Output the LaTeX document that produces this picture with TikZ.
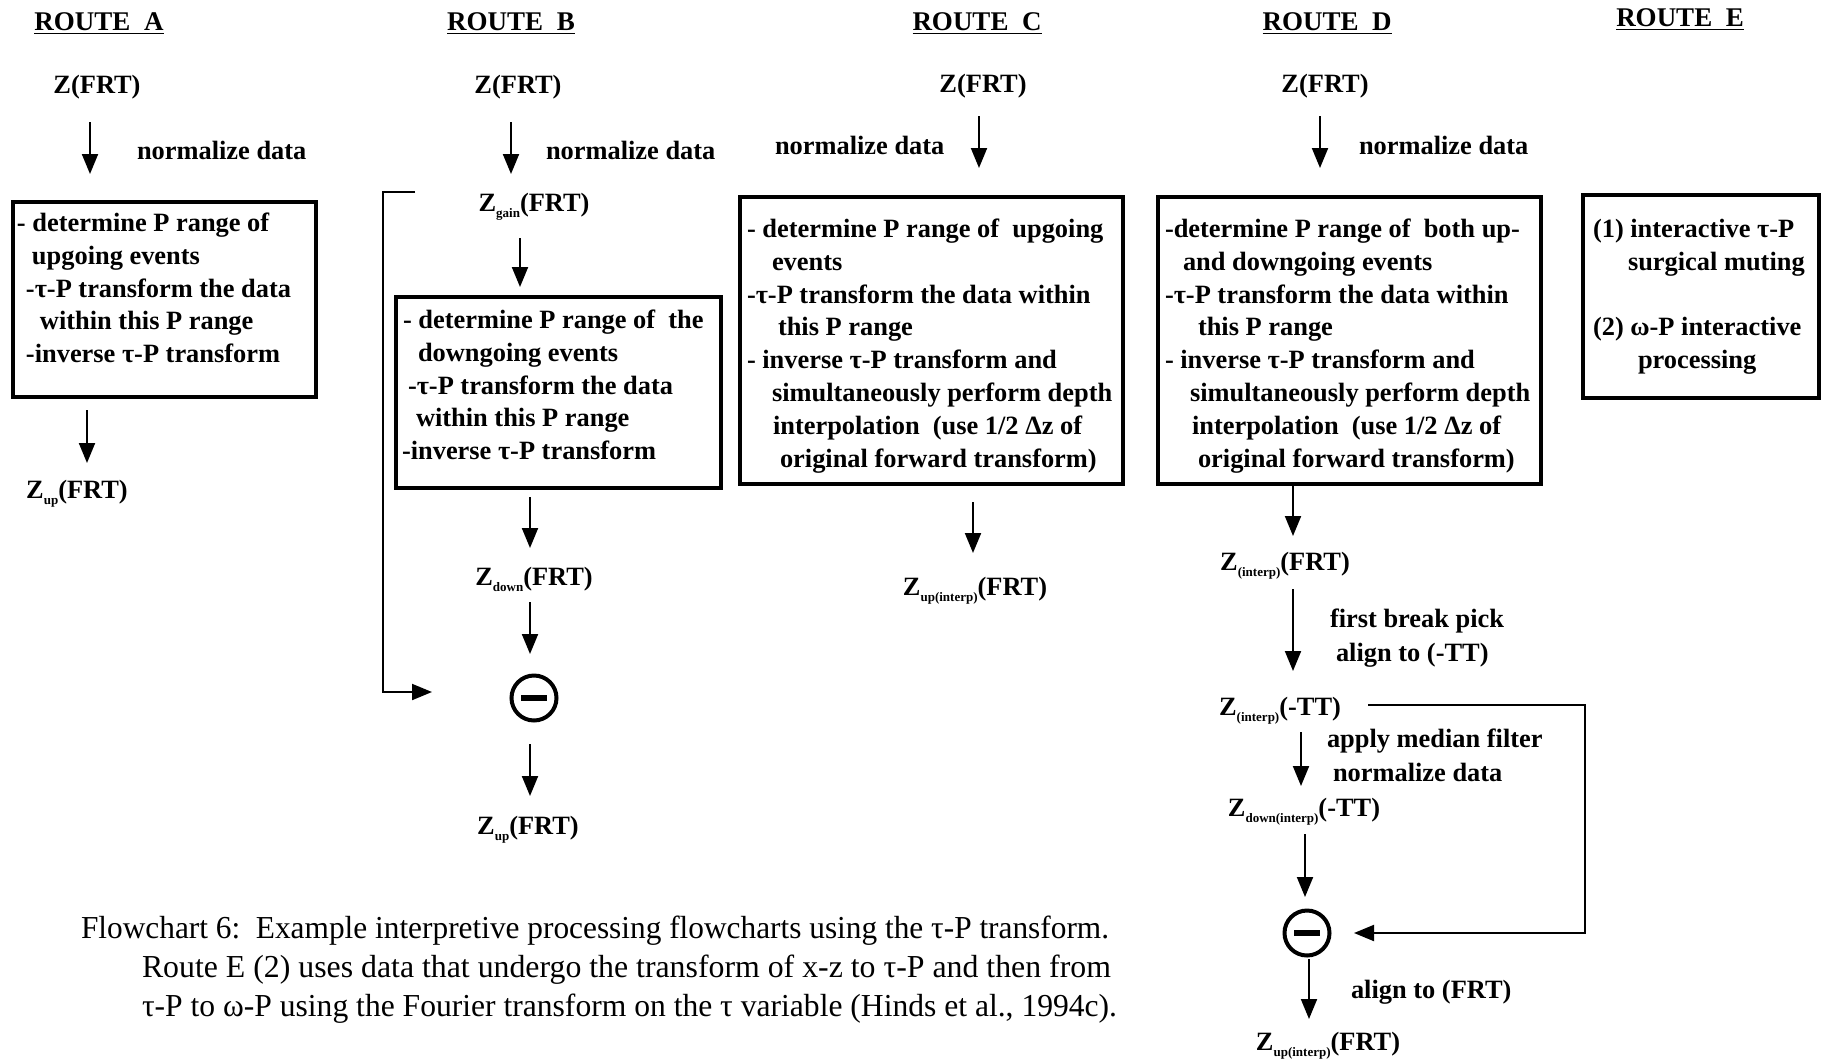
\documentclass[tikz,border=0pt]{standalone}
\usepackage{graphicx}
\usepackage{fontspec}
\setmainfont{Liberation Serif}
\usetikzlibrary{arrows.meta}
% small lowered subscript used in the Z labels
\newcommand{\sbx}[1]{\raisebox{-0.55ex}{\fontsize{6.5}{6.5}\selectfont #1}}
\begin{document}
\begin{tikzpicture}[x=0.5pt,y=-0.5pt,
  every node/.style={inner sep=0pt,outer sep=0pt},
  bold/.style={font=\fontsize{13.2}{16.4}\selectfont\bfseries},
  lbl/.style={bold,anchor=base},
  note/.style={bold,anchor=base west},
  hdr/.style={font=\fontsize{13.5}{16.4}\selectfont\bfseries,anchor=base},
  boxtext/.style={bold,anchor=north west,align=left},
  frame/.style 2 args={draw,line width=2pt,minimum width=#1*0.5pt,minimum height=#2*0.5pt},
  arr/.style={line width=1pt,-{Triangle[width=8pt,length=10pt]}},
  minus/.style={circle,draw,line width=2pt,minimum size=22.5pt},
  bar/.style={line width=2.8pt},
  capt/.style={font=\fontsize{16}{19}\selectfont,anchor=base west}
]
\useasboundingbox (0,0) rectangle (1821,1061);

% ---------- headers ----------
\node[hdr] (hA) at (99,30)   {\underline{ROUTE~~A}};
\node[hdr] (hB) at (511,30)  {\underline{ROUTE~~B}};
\node[hdr] (hC) at (977,30)  {\underline{ROUTE~~C}};
\node[hdr] (hD) at (1327,30) {\underline{ROUTE~~D}};
\node[hdr] (hE) at (1680,26) {\underline{ROUTE~~E}};

% ---------- route A ----------
\node[lbl] (zA) at (97,93) {Z(FRT)};
\node[note] (nA) at (137,159) {normalize data};
\node[frame={303}{195}] (boxA) at (164.5,299.5) {};
\node[boxtext] (tA) at (17,213) {%
- determine P range of\\
\hspace*{7.5pt}upgoing events\\
\hspace*{4.5pt}-τ-P transform the data\\
\hspace*{11.5pt}within this P range\\
\hspace*{4.5pt}-inverse τ-P transform};
\node[lbl] (zupA) at (77,498) {Z\sbx{up}(FRT)};
\coordinate (a1s) at (90,122);  \coordinate (a1e) at (90,174);
\coordinate (a2s) at (87,410);  \coordinate (a2e) at (87,463);
\draw[arr] (a1s) -- (a1e);
\draw[arr] (a2s) -- (a2e);

% ---------- route B ----------
\node[lbl] (zB) at (518,93) {Z(FRT)};
\node[note] (nB) at (546,159) {normalize data};
\node[lbl] (zgain) at (534,211) {Z\sbx{gain}(FRT)};
\node[frame={325}{191}] (boxB) at (558.5,392.5) {};
\node[boxtext] (tB) at (402,310) {%
\hspace*{0.5pt}- determine P range of~ the\\
\hspace*{8pt}downgoing events\\
\hspace*{3pt}-τ-P transform the data\\
\hspace*{7pt}within this P range\\
-inverse τ-P transform};
\node[lbl] (zdown) at (534,585) {Z\sbx{down}(FRT)};
\node[minus] (mB) at (534,698) {};
\draw[bar] ([xshift=-6.4pt]mB.center) -- ([xshift=6.4pt]mB.center);
\node[lbl] (zupB) at (528,834) {Z\sbx{up}(FRT)};
\coordinate (b1s) at (511,122); \coordinate (b1e) at (511,174);
\coordinate (b2s) at (520,238); \coordinate (b2e) at (520,287);
\coordinate (b3s) at (530,497); \coordinate (b3e) at (530,548);
\coordinate (b4s) at (530,602); \coordinate (b4e) at (530,654);
\coordinate (b5s) at (530,744); \coordinate (b5e) at (530,796);
\draw[arr] (b1s) -- (b1e);
\draw[arr] (b2s) -- (b2e);
\draw[arr] (b3s) -- (b3e);
\draw[arr] (b4s) -- (b4e);
\draw[arr] (b5s) -- (b5e);
% gain-corrected data fed forward to the subtraction
\coordinate (fbBs) at (415,192);
\coordinate (fbBc) at (383,692);
\coordinate (fbBe) at (432,692);
\draw[arr] (fbBs) -| (fbBc) -- (fbBe);

% ---------- route C ----------
\node[lbl] (zC) at (983,92) {Z(FRT)};
\node[note] (nC) at (775,154) {normalize data};
\node[frame={383}{287}] (boxC) at (931.5,340.5) {};
\node[boxtext] (tC) at (747,219) {%
- determine P range of~ upgoing\\
\hspace*{12.5pt}events\\
-τ-P transform the data within\\
\hspace*{15.5pt}this P range\\
- inverse τ-P transform and\\
\hspace*{12.5pt}simultaneously perform depth\\
\hspace*{13pt}interpolation~ (use 1/2 Δz of\\
\hspace*{16.5pt}original forward transform)};
\node[lbl] (zupC) at (975,595) {Z\sbx{up(interp)}(FRT)};
\coordinate (c1s) at (979,116); \coordinate (c1e) at (979,168);
\coordinate (c2s) at (973,502); \coordinate (c2e) at (973,553);
\draw[arr] (c1s) -- (c1e);
\draw[arr] (c2s) -- (c2e);

% ---------- route D ----------
\node[lbl] (zD) at (1325,92) {Z(FRT)};
\node[note] (nD) at (1359,154) {normalize data};
\node[frame={383}{287}] (boxD) at (1349.5,340.5) {};
\node[boxtext] (tD) at (1165,219) {%
-determine P range of~ both up-\\
\hspace*{9pt}and downgoing events\\
-τ-P transform the data within\\
\hspace*{16.5pt}this P range\\
- inverse τ-P transform and\\
\hspace*{12.5pt}simultaneously perform depth\\
\hspace*{13.5pt}interpolation~ (use 1/2 Δz of\\
\hspace*{16.5pt}original forward transform)};
\node[lbl] (zintD) at (1285,570) {Z\sbx{(interp)}(FRT)};
\node[note] (fbp) at (1330,627) {first break pick};
\node[note] (alTT) at (1336,661) {align to (-TT)};
\node[lbl] (zintTT) at (1280,715) {Z\sbx{(interp)}(-TT)};
\node[note] (amf) at (1327,747) {apply median filter};
\node[note] (nD2) at (1333,781) {normalize data};
\node[lbl] (zdownTT) at (1304,816) {Z\sbx{down(interp)}(-TT)};
\node[minus] (mD) at (1307,933) {};
\draw[bar] ([xshift=-6.4pt]mD.center) -- ([xshift=6.4pt]mD.center);
\node[note] (alFRT) at (1351,998) {align to (FRT)};
\node[lbl] (zupD) at (1328,1050) {Z\sbx{up(interp)}(FRT)};
\coordinate (d1s) at (1320,116); \coordinate (d1e) at (1320,168);
\coordinate (d3s) at (1293,589); \coordinate (d3e) at (1293,671);
\coordinate (d4s) at (1301,732); \coordinate (d4e) at (1301,786);
\coordinate (d5s) at (1305,834); \coordinate (d5e) at (1305,897);
\coordinate (d6s) at (1309,959); \coordinate (d6e) at (1309,1019);
\draw[arr] (d1s) -- (d1e);
\draw[arr] (boxD.south -| d3s) -- ++(0,52);
\draw[arr] (d3s) -- (d3e);
\draw[arr] (d4s) -- (d4e);
\draw[arr] (d5s) -- (d5e);
\draw[arr] (d6s) -- (d6e);
% aligned data fed forward to the subtraction
\coordinate (fbDs) at (1368,705);
\coordinate (fbDc) at (1585,705);
\coordinate (fbDe) at (1354,933);
\draw[arr] (fbDs) -- (fbDc) |- (fbDe);

% ---------- route E ----------
\node[frame={236}{203}] (boxE) at (1701,296.5) {};
\node[boxtext] (tE1) at (1593,219) {%
(1) interactive τ-P\\
\hspace*{17.5pt}surgical muting};
\node[boxtext] (tE2) at (1593,317) {%
(2) ω-P interactive\\
\hspace*{22.5pt}processing};

% ---------- caption ----------
\node[capt] (cap1) at (81,938) {\resizebox{514pt}{\height}{Flowchart 6:\ \ Example interpretive processing flowcharts using the τ-P transform.}};
\node[capt] (cap2) at (142,977) {\resizebox{484.5pt}{\height}{Route E (2) uses data that undergo the transform of x-z to τ-P and then from}};
\node[capt] (cap3) at (142,1016) {\resizebox{487.5pt}{\height}{τ-P to ω-P using the Fourier transform on the τ variable (Hinds et al., 1994c).}};
\end{tikzpicture}
\end{document}
